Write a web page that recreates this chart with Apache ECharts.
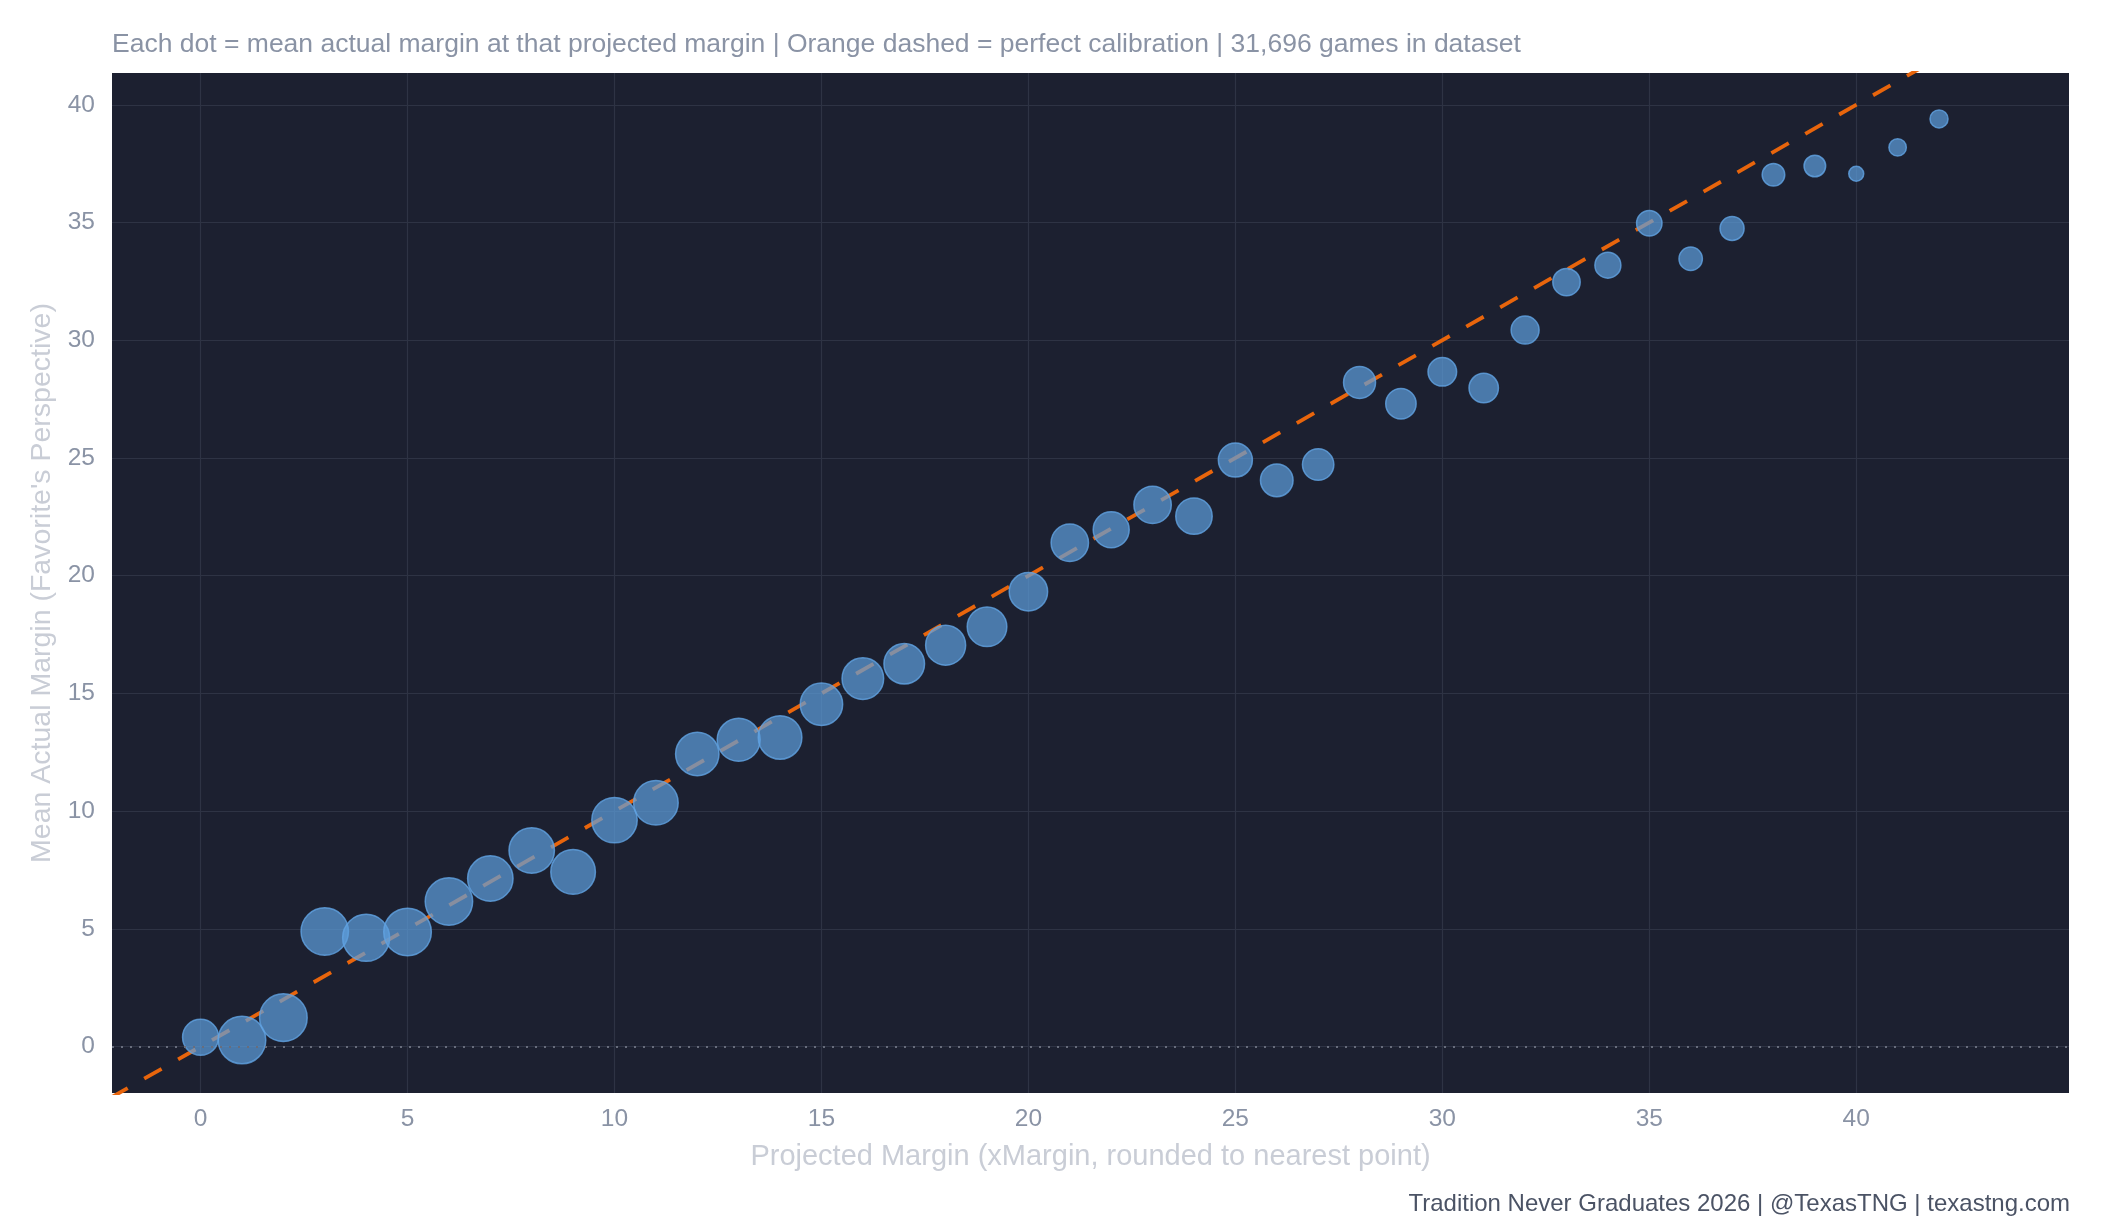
<!DOCTYPE html>
<html>
<head>
<meta charset="utf-8">
<title>xMargin calibration</title>
<script src="https://cdn.jsdelivr.net/npm/echarts@6/dist/echarts.min.js"></script>
<style>
  html, body { margin: 0; padding: 0; background: #ffffff; }
  #chart { width: 2112px; height: 1228px; }
</style>
</head>
<body>
<div id="chart"></div>
<script>
// projected margin bins (rounded xMargin)
var projectedMargin = [0, 1, 2, 3, 4, 5, 6, 7, 8, 9, 10, 11, 12, 13, 14, 15, 16, 17, 18, 19, 20,
  21, 22, 23, 24, 25, 26, 27, 28, 29, 30, 31, 32, 33, 34, 35, 36, 37, 38, 39, 40, 41, 42];
// mean actual margin in each bin
var meanActual = [0.40, 0.28, 1.23, 4.89, 4.62, 4.87, 6.16, 7.14, 8.33, 7.42, 9.62,
  10.36, 12.43, 13.03, 13.13, 14.54, 15.63, 16.26, 17.05, 17.83, 19.32,
  21.40, 21.95, 23.01, 22.53, 24.91, 24.05, 24.72, 28.21, 27.30, 28.66,
  27.97, 30.43, 32.47, 33.19, 34.97, 33.46, 34.75, 37.03, 37.40, 37.07, 38.19, 39.40];
// games per bin (dot size)
var gameCounts = [711, 1243, 1243, 1233, 1212, 1243, 1233, 1131, 1131, 1091, 1131,
  1091, 1033, 1015, 1043, 986, 950, 904, 878, 860, 809,
  767, 711, 767, 727, 634, 583, 541, 562, 507, 449,
  474, 430, 412, 371, 354, 300, 316, 280, 256, 123, 166, 178];
// perfect calibration line y = x
var calibration = [[-3, -3], [46, 46]];
var xTicks = [0, 5, 10, 15, 20, 25, 30, 35, 40];
var yTicks = [0, 5, 10, 15, 20, 25, 30, 35, 40];

var points = projectedMargin.map(function (x, i) {
  return [x, meanActual[i], gameCounts[i]];
});

var font = '"Liberation Sans", Arial, Helvetica, sans-serif';
var chart = echarts.init(document.getElementById('chart'));

chart.setOption({
  backgroundColor: '#ffffff',
  animation: false,
  textStyle: { fontFamily: font },
  title: [
    {
      text: 'Each dot = mean actual margin at that projected margin | Orange dashed = perfect calibration | 31,696 games in dataset',
      left: 107,
      top: 26,
      textStyle: { color: '#8a93a5', fontSize: 26.5, fontWeight: 'normal', fontFamily: font }
    },
    {
      text: 'Tradition Never Graduates 2026 | @TexasTNG | texastng.com',
      right: 37,
      top: 1187,
      textStyle: { color: '#4b5365', fontSize: 24, fontWeight: 'normal', fontFamily: font }
    }
  ],
  grid: { left: 112, right: 43, top: 73, bottom: 135, show: true, backgroundColor: '#1c2030', borderWidth: 0 },
  xAxis: {
    type: 'value',
    min: -2.14,
    max: 45.14,
    name: 'Projected Margin (xMargin, rounded to nearest point)',
    nameLocation: 'middle',
    nameGap: 49,
    nameTextStyle: { color: '#c9cdd6', fontSize: 29, fontFamily: font },
    axisLine: { show: false },
    axisTick: { show: false, customValues: xTicks },
    axisLabel: { customValues: xTicks, color: '#8a93a5', fontSize: 24.5, margin: 14, fontFamily: font },
    splitLine: { show: true, lineStyle: { color: '#2e3344', width: 1.2 } }
  },
  yAxis: {
    type: 'value',
    min: -1.97,
    max: 41.35,
    name: "Mean Actual Margin (Favorite's Perspective)",
    nameLocation: 'middle',
    nameGap: 48,
    nameTextStyle: { color: '#c9cdd6', fontSize: 28.5, fontFamily: font },
    axisLine: { show: false },
    axisTick: { show: false, customValues: yTicks },
    axisLabel: { customValues: yTicks, color: '#8a93a5', fontSize: 24.5, margin: 17, fontFamily: font },
    splitLine: { show: true, lineStyle: { color: '#2e3344', width: 1.2 } }
  },
  series: [
    {
      name: 'Perfect calibration',
      type: 'line',
      data: calibration,
      symbol: 'none',
      clip: true,
      z: 2,
      lineStyle: { color: '#e8650c', width: 3.8, type: [20, 19] },
      markLine: {
        silent: true,
        symbol: 'none',
        label: { show: false },
        lineStyle: { color: '#686d7c', width: 2, type: [2, 7] },
        data: [{ yAxis: 0 }]
      }
    },
    {
      name: 'Mean actual margin',
      type: 'scatter',
      data: points,
      z: 3,
      symbolSize: function (d) { return Math.sqrt(d[2]) * 1.35; },
      itemStyle: {
        color: 'rgba(94,160,222,0.88)',
        borderColor: 'rgba(98,164,228,1)',
        borderWidth: 1.5
      }
    }
  ]
});
</script>
</body>
</html>
